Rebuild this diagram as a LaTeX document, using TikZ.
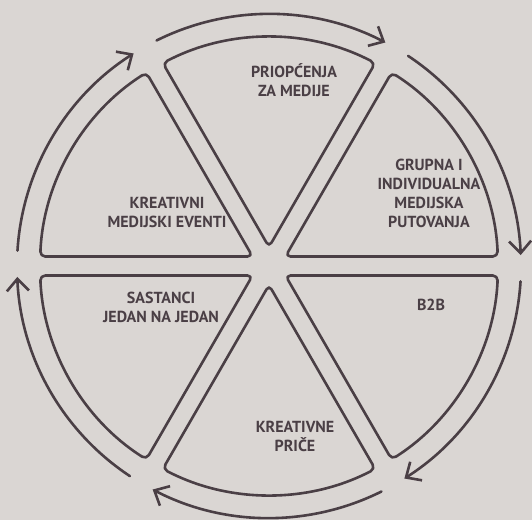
\documentclass[tikz,border=0pt]{standalone}
\usepackage{fontspec}
\setmainfont{PT Sans}
\usetikzlibrary{arrows.meta}
\definecolor{ink}{HTML}{4A3F45}
\definecolor{bg}{HTML}{DAD6D3}
\begin{document}
\begin{tikzpicture}[x=1pt,y=1pt,
  sect/.style={draw=ink, line width=2.6pt, rounded corners=5pt, line join=round},
  cyc/.style={draw=ink, line width=2.6pt, line cap=round, -{Straight Barb[length=12pt,width=22pt]}},
  lbl/.style={text=ink, font=\bfseries\fontsize{16}{19}\selectfont, align=center, inner sep=0pt}]
\fill[bg] (-269,-254) rectangle (263,266);
\useasboundingbox (-269,-254) rectangle (263,266);
\foreach \a in {0,60,...,300}
  \draw[sect] (\a+30:19) -- (\a+2.38:229) arc[start angle=\a+2.38, end angle=\a+57.62, radius=229] -- cycle;
\foreach \c in {90,30,-30,-90,-150,150}
  \draw[cyc] (\c+26.5:252) arc[start angle=\c+26.5, end angle=\c-27.5, radius=252];
\node[lbl] (pr) at (25,186) {PRIOPĆENJA\\ZA MEDIJE};
\node[lbl] (gr) at (160,72.5) {GRUPNA I\\INDIVIDUALNA\\MEDIJSKA\\PUTOVANJA};
\node[lbl] (kr) at (-102,53.5) {KREATIVNI\\MEDIJSKI EVENTI};
\node[lbl] (sa) at (-108,-41.5) {SASTANCI\\JEDAN NA JEDAN};
\node[lbl] (bb) at (162,-39) {B2B};
\node[lbl] (kp) at (26,-170.5) {KREATIVNE\\PRIČE};
\end{tikzpicture}
\end{document}
